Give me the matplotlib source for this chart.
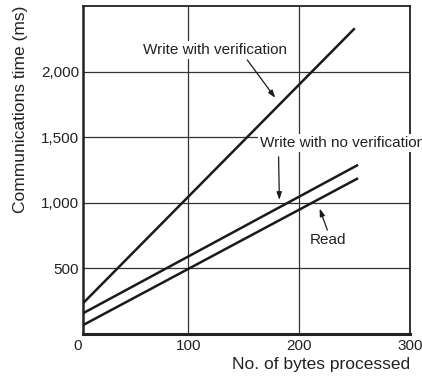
import numpy as np
import matplotlib
matplotlib.use('Agg')
from matplotlib import pyplot as plt

plt.rcParams['font.family'] = ['Liberation Sans', 'DejaVu Sans']

# values (line end points)
x_write = [0, 250]
write_verify = [190, 2330]
x_other = [0, 253]
write_no_verify = [133, 1288]
read_time = [43, 1186]

x_ticks = [100, 200, 300]
x_tick_labels = ['100', '200', '300']
y_ticks = [500, 1000, 1500, 2000]
y_tick_labels = ['500', '1,000', '1,500', '2,000']

ink = '#1a1a1a'
txt = '#222222'
fig = plt.figure(figsize=(4.22, 3.77), dpi=100)
ax = fig.add_axes([0.197, 0.115, 0.775, 0.869])

ax.plot(x_write, write_verify, color=ink, lw=1.8, solid_capstyle='butt', zorder=3)
ax.plot(x_other, write_no_verify, color=ink, lw=1.8, solid_capstyle='butt', zorder=3)
ax.plot(x_other, read_time, color=ink, lw=1.8, solid_capstyle='butt', zorder=3)

ax.set_xlim(5, 300)
ax.set_ylim(0, 2500)
ax.set_xticks(x_ticks)
ax.set_xticklabels(x_tick_labels)
ax.set_yticks(y_ticks)
ax.set_yticklabels(y_tick_labels)
ax.tick_params(length=0, labelsize=11, colors=txt, pad=3)
ax.tick_params(axis='x', pad=4)
ax.grid(True, color='#333333', lw=0.9)
ax.set_axisbelow(True)
for s in ax.spines.values():
    s.set_color(txt)
    s.set_linewidth(1.3)
ax.spines['left'].set_linewidth(1.8)
ax.spines['bottom'].set_linewidth(2.2)

# origin label sits left of the frame
ax.annotate('0', xy=(0, 0), xytext=(0, -4), textcoords='offset points',
            ha='center', va='top', fontsize=11, color=txt,
            annotation_clip=False)

ax.set_xlabel('No. of bytes processed', fontsize=12.5, color=txt, loc='right', labelpad=3)
ax.set_ylabel('Communications time (ms)', fontsize=12.5, color=txt, loc='top', labelpad=9)

box = dict(facecolor='white', edgecolor='none', pad=1.5)
arrow = dict(arrowstyle='-|>,head_length=0.45,head_width=0.15', color=ink, lw=0.9,
             shrinkA=0, shrinkB=0)

ax.text(124, 2166, 'Write with verification', ha='center', va='center',
        fontsize=11, color=txt, bbox=box, zorder=4)
ax.annotate('', xy=(178.3, 1799), xytext=(153, 2089), arrowprops=arrow, zorder=4)

ax.text(164.8, 1456, 'Write with no verification', ha='left', va='center',
        fontsize=11, color=txt, bbox=box, zorder=4, clip_on=False)
ax.annotate('', xy=(182, 1020), xytext=(181.3, 1349), arrowprops=arrow, zorder=4)

ax.text(226, 715, 'Read', ha='center', va='center',
        fontsize=11, color=txt, bbox=box, zorder=4)
ax.annotate('', xy=(218.3, 955), xytext=(225.3, 790), arrowprops=arrow, zorder=4)

fig.savefig('out.png', dpi=100)
